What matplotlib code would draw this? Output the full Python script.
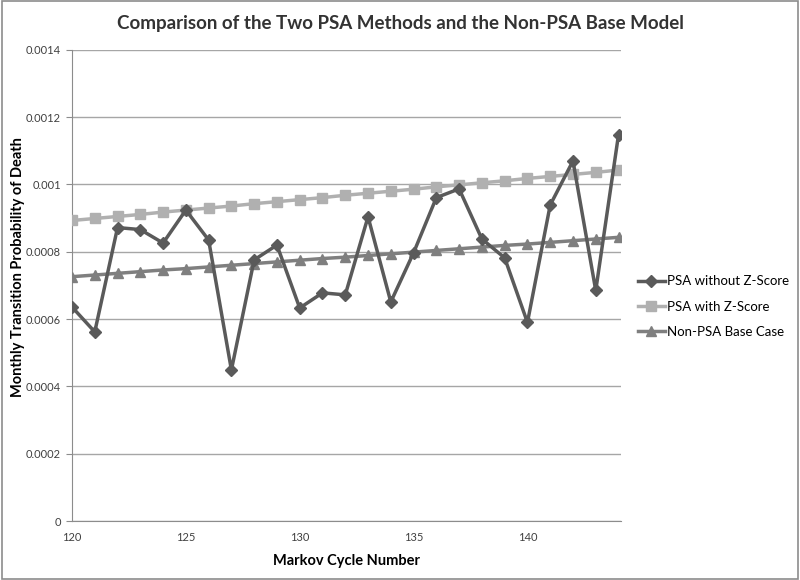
import matplotlib
matplotlib.use("Agg")
import matplotlib.pyplot as plt
from matplotlib.patches import Rectangle

plt.rcParams["font.family"] = ["Lato", "DejaVu Sans"]

# Chart data
cycles = list(range(120, 145))
psa_no_z = [0.000636, 0.000562, 0.000872, 0.000866, 0.000826, 0.000924, 0.000835, 0.000449,
            0.000776, 0.000820, 0.000633, 0.000678, 0.000672, 0.000904, 0.000651, 0.000797,
            0.000961, 0.000987, 0.000838, 0.000782, 0.000590, 0.000939, 0.001070, 0.000685,
            0.001148]
psa_with_z = [0.000893, 0.000899, 0.000905, 0.000911, 0.000918, 0.000924, 0.000930, 0.000936,
              0.000943, 0.000949, 0.000955, 0.000961, 0.000968, 0.000974, 0.000980, 0.000986,
              0.000993, 0.000999, 0.001005, 0.001011, 0.001018, 0.001024, 0.001030, 0.001036,
              0.001043]
base_case = [0.000726, 0.000731, 0.000736, 0.000741, 0.000746, 0.000750, 0.000755, 0.000760,
             0.000765, 0.000770, 0.000775, 0.000780, 0.000784, 0.000789, 0.000794, 0.000799,
             0.000804, 0.000809, 0.000814, 0.000819, 0.000823, 0.000828, 0.000833, 0.000838,
             0.000843]
x_ticks = [120, 125, 130, 135, 140]
y_ticks = [0, 0.0002, 0.0004, 0.0006, 0.0008, 0.001, 0.0012, 0.0014]
y_labels = ["0", "0.0002", "0.0004", "0.0006", "0.0008", "0.001", "0.0012", "0.0014"]

fig = plt.figure(figsize=(8, 5.8), dpi=100)
ax = fig.add_axes([0.09, 0.1017, 0.686, 0.8123])

# outer chart border
fig.patches.append(Rectangle((0.002, 0.002), 0.996, 0.996, transform=fig.transFigure,
                             fill=False, edgecolor="#8c8c8c", linewidth=1.2))

ax.plot(cycles, psa_no_z, color="#5a5a5a", marker="D", markersize=6, linewidth=2.5,
        label="PSA without Z-Score", zorder=5)
ax.plot(cycles, psa_with_z, color="#b0b0b0", marker="s", markersize=7, linewidth=2.5,
        label="PSA with Z-Score", zorder=3)
ax.plot(cycles, base_case, color="#7f7f7f", marker="^", markersize=7, linewidth=2.5,
        label="Non-PSA Base Case", zorder=4)

ax.set_xlim(120, 144.1)
ax.set_ylim(0, 0.0014)
ax.set_xticks(x_ticks)
ax.set_yticks(y_ticks)
ax.set_yticklabels(y_labels)
ax.tick_params(axis="both", labelsize=8, colors="#404040", length=4, color="#8c8c8c")
ax.tick_params(axis="x", length=0, pad=8)
ax.tick_params(axis="y", pad=4)
ax.yaxis.grid(True, color="#a6a6a6", linewidth=1)
ax.set_axisbelow(True)
for s in ["top", "right"]:
    ax.spines[s].set_visible(False)
for s in ["left", "bottom"]:
    ax.spines[s].set_color("#8c8c8c")

ax.set_xlabel("Markov Cycle Number", fontsize=10.5, fontweight="bold", labelpad=8)
fig.text(18 / 800, 0.54, "Monthly Transition Probability of Death", fontsize=10.5,
         fontweight="bold", rotation=90, ha="center", va="center")
fig.suptitle("Comparison of the Two PSA Methods and the Non-PSA Base Model",
             fontsize=13.5, fontweight="bold", color="#333333", y=0.975, x=0.5)

ax.legend(loc="center left", bbox_to_anchor=(1.01, 0.455), frameon=False, fontsize=9.5,
          handlelength=2, handletextpad=0.2, labelspacing=1.0)

fig.savefig("out.png", dpi=100)
